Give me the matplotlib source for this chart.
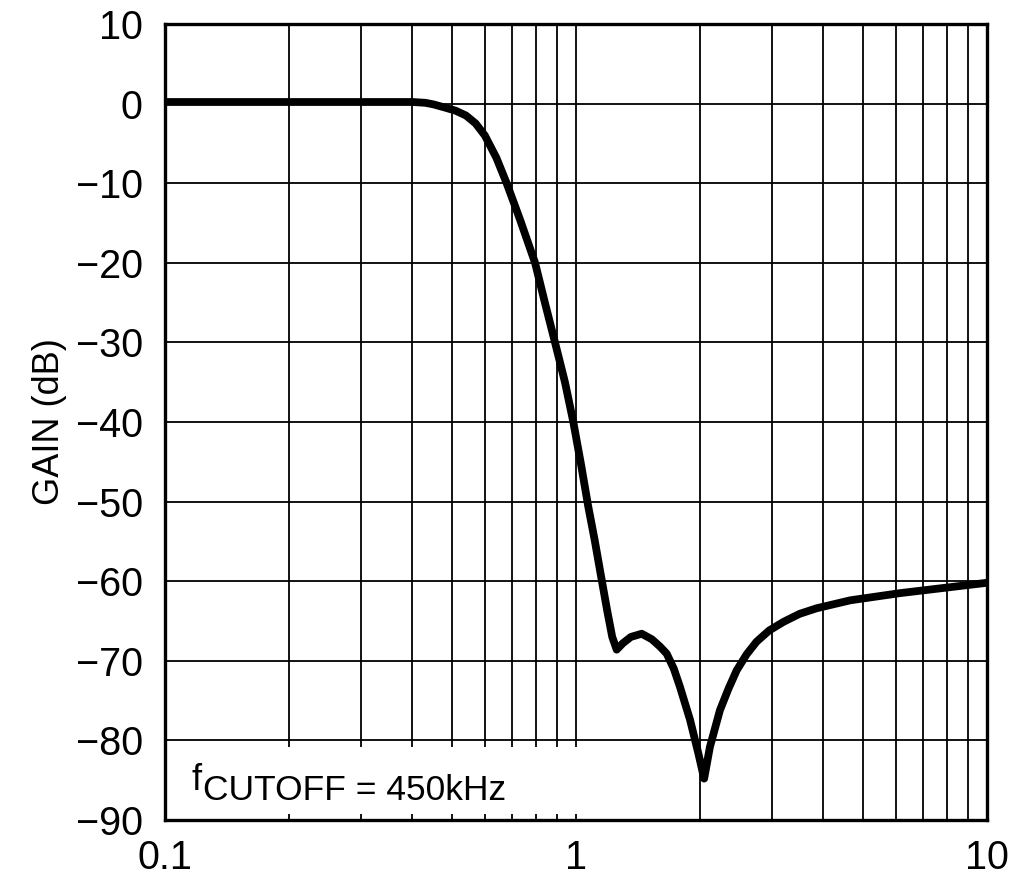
import matplotlib
matplotlib.use("Agg")
import matplotlib.pyplot as plt
from matplotlib import font_manager

# ---- data ----
freq = [0.1, 0.2, 0.3, 0.40, 0.43, 0.45, 0.48, 0.51, 0.54, 0.57, 0.60, 0.64,
        0.678, 0.73, 0.795, 0.84, 0.889, 0.94, 0.985, 1.03, 1.07, 1.11, 1.15,
        1.19, 1.225, 1.256, 1.30, 1.36, 1.445, 1.53, 1.60, 1.662, 1.73, 1.791,
        1.894, 1.984, 2.05, 2.118, 2.24, 2.35, 2.46, 2.60, 2.75, 2.95, 3.2,
        3.5, 3.85, 4.65, 6.14, 8.93, 10.0]
gain = [0.2, 0.2, 0.2, 0.2, 0.1, -0.1, -0.5, -0.9, -1.5, -2.5, -4.0, -6.8,
        -10.0, -14.5, -20.0, -25.0, -30.0, -35.0, -40.0, -45.5, -50.5, -54.8, -59.3,
        -63.6, -67.0, -68.6, -67.8, -67.0, -66.6, -67.3, -68.2, -69.1, -71.0, -73.3,
        -77.4, -81.6, -84.8, -80.8, -76.2, -73.5, -71.2, -69.2, -67.6, -66.2, -65.1,
        -64.1, -63.4, -62.4, -61.5, -60.5, -60.2]

y_ticks = [10, 0, -10, -20, -30, -40, -50, -60, -70, -80, -90]
x_tick_vals = [0.1, 1, 10]
x_tick_labels = ["0.1", "1", "10"]
grid_x = [0.1, 0.2, 0.3, 0.4, 0.5, 0.6, 0.7, 0.8, 0.9,
          1, 2, 3, 4, 5, 6, 7, 8, 9, 10]
ylabel = "GAIN (dB)"
note_f = "f"
note_rest = "CUTOFF = 450kHz"

# ---- fonts ----
avail = {f.name for f in font_manager.fontManager.ttflist}
fam = ["Liberation Sans Narrow", "Liberation Sans", "DejaVu Sans"]
fam = [f for f in fam if f in avail] or ["DejaVu Sans"]
plt.rcParams['font.family'] = fam

W, H = 1016, 881
fig = plt.figure(figsize=(W / 100, H / 100), dpi=100)
L, R, T, B = 165, 987, 24, 820
ax = fig.add_axes([L / W, 1 - B / H, (R - L) / W, (B - T) / H])
ax.set_xscale("log")
ax.set_xlim(0.1, 10)
ax.set_ylim(-90, 10)

# grid (vertical lines stop at -80 under the note box for f <= 1)
gl = 1.3
for x in grid_x:
    ybot = -80 if x <= 1 else -90
    ax.vlines(x, ybot, 10, color="black", lw=gl, zorder=1)
    if 0.1 < x <= 1:
        ax.vlines(x, -80.8, -80, color="black", lw=gl, zorder=1)
        ax.vlines(x, -90, -89.2, color="black", lw=gl, zorder=1)
for y in y_ticks:
    ax.axhline(y, color="black", lw=gl, zorder=1)

ax.plot(freq, gain, color="black", lw=5.6, solid_joinstyle="round",
        solid_capstyle="butt", zorder=3)

for s in ax.spines.values():
    s.set_linewidth(2.4)
    s.set_zorder(4)

ax.set_yticks(y_ticks)
ax.set_yticklabels([f"{v}".replace("-", "\u2212") for v in y_ticks])
ax.set_xticks(x_tick_vals)
ax.set_xticklabels(x_tick_labels)
ax.xaxis.set_minor_locator(matplotlib.ticker.NullLocator())
ax.tick_params(axis="both", length=0, labelsize=28.5, pad=14)
ax.tick_params(axis="y", pad=16)
ax.set_ylabel(ylabel, fontsize=26, labelpad=6)

fig.text(192 / W, 1 - 790 / H, note_f, fontsize=26, ha="left", va="baseline")
fig.text(203 / W, 1 - 800 / H, note_rest, fontsize=25.5, ha="left", va="baseline")

fig.savefig("out.png", dpi=100)
